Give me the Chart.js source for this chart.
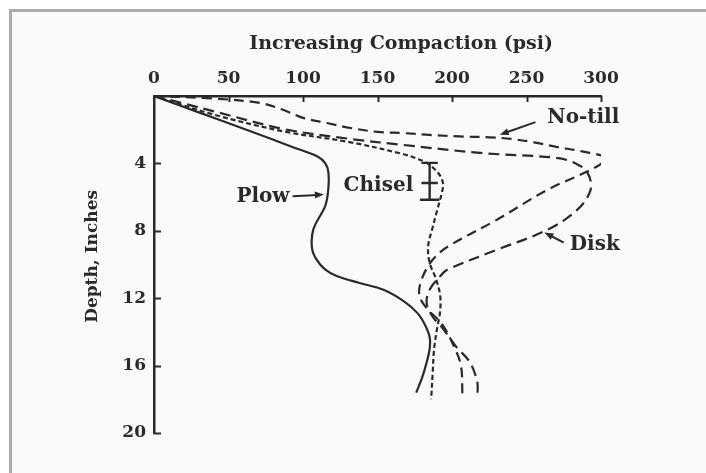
<!DOCTYPE html>
<html>
<head>
<meta charset="utf-8">
<script src="https://cdn.jsdelivr.net/npm/chart.js@4.4.0/dist/chart.umd.min.js"></script>
<style>
  html, body { margin: 0; padding: 0; background: #ffffff; }
  #wrap { position: relative; width: 706px; height: 473px; overflow: hidden; }
  #frame { position: absolute; left: 9px; top: 9px; right: 0; bottom: 0;
           border-top: 3px solid #acacac; border-left: 3px solid #acacac; background: #fafafa; }
  canvas { position: absolute; left: 0; top: 0; }
</style>
</head>
<body>
<div id="wrap">
  <div id="frame"></div>
  <canvas id="chart" width="706" height="473"></canvas>
</div>
<script>
// Soil compaction (psi) against depth (inches) for four tillage systems
const plowDepth = [0, 1, 2, 3, 3.6, 4.0, 4.5, 5.5, 6.5, 7.9, 9.0, 9.7, 10.3, 10.7, 11.1, 11.5, 12.2, 12.9, 13.6, 14.3, 15.0, 15.8, 16.7, 17.6];
const plowPsi   = [0, 31, 62, 92, 110, 115, 117, 117, 115, 107, 106, 109, 115, 123, 138, 154, 168, 177, 182, 185, 185, 183, 180, 176];

const chiselDepth = [0, 1.1, 2.1, 2.75, 3.44, 3.7, 3.97, 4.6, 5.2, 5.8, 6.8, 7.8, 8.9, 9.9, 10.8, 11.8, 12.8, 13.8, 15.0, 16.5, 18.0];
const chiselPsi   = [0, 40, 87, 132, 167, 176, 183, 191, 194, 193, 190, 187, 184, 185, 189, 192, 192, 190, 188, 187, 186];

const noTillDepth = [0, 0.15, 0.41, 0.83, 1.3, 1.6, 1.9, 2.13, 2.2, 2.31, 2.4, 2.45, 2.55, 2.75, 3.02, 3.3, 3.67, 4.2, 5.57, 7.35, 8.95, 9.72, 10.8, 11.8, 12.6, 13.5, 14.8, 16.0, 17.8];
const noTillPsi   = [0, 40, 71, 87, 100, 116, 132, 150, 167, 185, 205, 225, 240, 255, 270, 288, 303, 297, 264, 230, 197, 187, 180, 178, 183, 193, 201, 206, 207];

const diskDepth = [0, 0.45, 0.95, 1.96, 2.55, 2.9, 3.38, 3.67, 4.0, 4.56, 5.57, 6.76, 7.94, 9.13, 10.3, 10.7, 11.5, 12.3, 13.1, 13.7, 14.9, 15.8, 17.0, 17.8];
const diskPsi   = [0, 20, 42, 87, 132, 167, 219, 270, 283, 291, 293, 284, 264, 230, 197, 192, 185, 183, 187, 193, 203, 212, 217, 217];

// Chisel variability bar: compaction value and depths of top, middle and bottom marks
const chiselBarPsi = 185;
const chiselBarDepth = [3.97, 5.16, 6.16];

const xTickValues = [0, 50, 100, 150, 200, 250, 300];
const yTickValues = [4, 8, 12, 16, 20];

const seriesNames = ['Plow', 'Chisel', 'No-till', 'Disk'];
const xTitle = 'Increasing Compaction (psi)';
const yTitle = 'Depth, Inches';

const ink = '#2a2a2a';
const serif = "'DejaVu Serif', 'Liberation Serif', serif";

function toPoints(depths, psis) {
  return depths.map((d, i) => ({ x: psis[i], y: d }));
}

function barPoints() {
  const half = 5.5;
  const [top, mid, bot] = chiselBarDepth;
  const gap = { x: null, y: null };
  return [
    { x: chiselBarPsi - half, y: top }, { x: chiselBarPsi + half, y: top }, gap,
    { x: chiselBarPsi, y: top }, { x: chiselBarPsi, y: bot }, gap,
    { x: chiselBarPsi - half, y: mid }, { x: chiselBarPsi + half, y: mid }, gap,
    { x: chiselBarPsi - half - 1, y: bot }, { x: chiselBarPsi + half + 1, y: bot }
  ];
}

const lineStyle = { showLine: true, pointRadius: 0, borderColor: ink, borderWidth: 2.2, fill: false, tension: 0.35 };

const datasets = [
  Object.assign({ label: seriesNames[0], data: toPoints(plowDepth, plowPsi), borderDash: [] }, lineStyle),
  Object.assign({ label: seriesNames[1], data: toPoints(chiselDepth, chiselPsi) }, lineStyle, { borderDash: [5, 3] }),
  Object.assign({ label: seriesNames[2], data: toPoints(noTillDepth, noTillPsi) }, lineStyle, { borderDash: [10, 6] }),
  Object.assign({ label: seriesNames[3], data: toPoints(diskDepth, diskPsi) }, lineStyle, { borderDash: [11, 6] }),
  Object.assign({ label: 'Chisel range', data: barPoints() }, lineStyle, { tension: 0, spanGaps: false, borderWidth: 2.4 })
];

// Callout labels with optional arrows (data coordinates)
const callouts = [
  { text: 'No-till', x: 264, y: 1.3, align: 'left', arrow: [[256, 1.55], [232, 2.3]] },
  { text: 'Disk', x: 279, y: 8.85, align: 'left', arrow: [[275, 8.7], [262, 8.1]] },
  { text: 'Chisel', x: 174, y: 5.35, align: 'right', arrow: null },
  { text: 'Plow', x: 91, y: 6.0, align: 'right', arrow: [[93, 5.95], [114, 5.85]] }
];

const decorations = {
  id: 'decorations',
  afterDatasetsDraw(chart) {
    const { ctx, chartArea, scales: { x, y } } = chart;
    const w = chartArea.right - chartArea.left, h = chartArea.bottom - chartArea.top;
    ctx.save();
    ctx.strokeStyle = ink;
    ctx.fillStyle = ink;
    ctx.lineWidth = 2;
    // inward tick marks
    xTickValues.forEach(v => {
      if (v === 0) return;
      const px = Math.round(x.getPixelForValue(v)) + 0.5;
      ctx.beginPath(); ctx.moveTo(px, chartArea.top); ctx.lineTo(px, chartArea.top + 6); ctx.stroke();
    });
    yTickValues.forEach(v => {
      const py = Math.round(y.getPixelForValue(v)) + 0.5;
      ctx.beginPath(); ctx.moveTo(chartArea.left, py); ctx.lineTo(chartArea.left + 7, py); ctx.stroke();
    });
    // axis titles
    ctx.textBaseline = 'middle';
    ctx.textAlign = 'center';
    ctx.font = 'bold 19px ' + serif;
    ctx.fillText(xTitle, chartArea.left + w * 0.553, chartArea.top - 52);
    ctx.save();
    ctx.translate(chartArea.left - 61, chartArea.top + h * 0.476);
    ctx.rotate(-Math.PI / 2);
    ctx.font = 'bold 17px ' + serif;
    ctx.fillText(yTitle, 0, 0);
    ctx.restore();
    // callouts
    ctx.font = 'bold 20px ' + serif;
    callouts.forEach(c => {
      ctx.textAlign = c.align;
      ctx.fillText(c.text, x.getPixelForValue(c.x), y.getPixelForValue(c.y));
      if (c.arrow) {
        const [a, b] = c.arrow;
        const x1 = x.getPixelForValue(a[0]), y1 = y.getPixelForValue(a[1]);
        const x2 = x.getPixelForValue(b[0]), y2 = y.getPixelForValue(b[1]);
        const ang = Math.atan2(y2 - y1, x2 - x1);
        ctx.lineWidth = 2;
        ctx.beginPath(); ctx.moveTo(x1, y1); ctx.lineTo(x2 - 6 * Math.cos(ang), y2 - 6 * Math.sin(ang)); ctx.stroke();
        ctx.beginPath();
        ctx.moveTo(x2, y2);
        ctx.lineTo(x2 - 9 * Math.cos(ang) + 3.5 * Math.sin(ang), y2 - 9 * Math.sin(ang) - 3.5 * Math.cos(ang));
        ctx.lineTo(x2 - 9 * Math.cos(ang) - 3.5 * Math.sin(ang), y2 - 9 * Math.sin(ang) + 3.5 * Math.cos(ang));
        ctx.closePath(); ctx.fill();
      }
    });
    ctx.restore();
  }
};

new Chart(document.getElementById('chart'), {
  type: 'scatter',
  data: { datasets },
  options: {
    responsive: false,
    devicePixelRatio: 1,
    animation: false,
    layout: { padding: { left: 78, top: 18, right: 105, bottom: 40 } },
    plugins: { legend: { display: false }, tooltip: { enabled: false } },
    scales: {
      x: {
        type: 'linear', position: 'top', min: 0, max: 300,
        afterBuildTicks: s => { s.ticks = xTickValues.map(v => ({ value: v })); },
        afterFit: s => { s.height = 96 - 18; },
        grid: { display: false, drawTicks: false },
        border: { display: true, color: ink, width: 2.5 },
        ticks: { color: ink, padding: 7, maxRotation: 0, font: { family: serif, size: 17, weight: 'bold' } },
        title: { display: false, text: xTitle }
      },
      y: {
        type: 'linear', position: 'left', reverse: true, min: 0, max: 20,
        afterBuildTicks: s => { s.ticks = yTickValues.map(v => ({ value: v })); },
        afterFit: s => { s.width = 154 - 78; },
        grid: { display: false, drawTicks: false },
        border: { display: true, color: ink, width: 2.5 },
        ticks: { color: ink, padding: 8, font: { family: serif, size: 17, weight: 'bold' } },
        title: { display: false, text: yTitle }
      }
    }
  },
  plugins: [decorations]
});
</script>
</body>
</html>
